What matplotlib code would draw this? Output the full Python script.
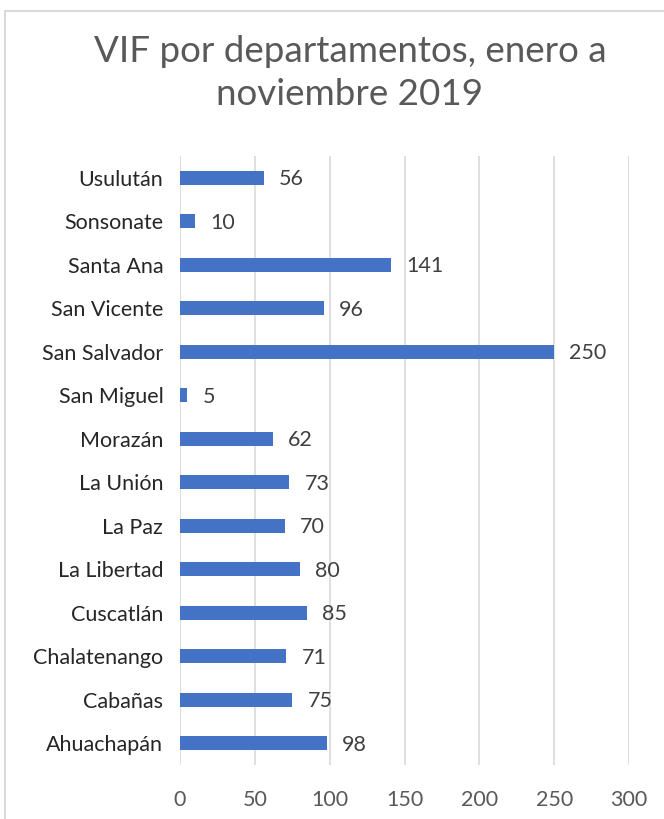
import matplotlib
matplotlib.use("Agg")
import matplotlib.pyplot as plt
from matplotlib.patches import Rectangle

categories = ["Usulután", "Sonsonate", "Santa Ana", "San Vicente", "San Salvador",
              "San Miguel", "Morazán", "La Unión", "La Paz", "La Libertad",
              "Cuscatlán", "Chalatenango", "Cabañas", "Ahuachapán"]
values = [56, 10, 141, 96, 250, 5, 62, 73, 70, 80, 85, 71, 75, 98]
xticks = [0, 50, 100, 150, 200, 250, 300]
title = "VIF por departamentos, enero a\nnoviembre 2019"

plt.rcParams['font.family'] = ['Lato', 'DejaVu Sans']

W, H = 664, 819
fig = plt.figure(figsize=(W/100, H/100), dpi=100)
fig.patch.set_facecolor("white")

# outer border (right/bottom extend beyond the image)
fig.patches.append(Rectangle((5/W, -0.05), 1.2, 1 - 11/H + 0.05, transform=fig.transFigure,
                             fill=False, edgecolor="#D9D9D9", linewidth=1.5))

ax = fig.add_axes([180/W, 1 - 765/H, (629-180)/W, (765-156)/H])
n = len(categories)
ypos = list(range(n))
ax.barh(ypos, values, height=0.33, color="#4472C4", zorder=3)
ax.set_ylim(n - 0.5, -0.5)
ax.set_xlim(0, 300)
ax.set_xticks(xticks)
ax.set_xticklabels([str(t) for t in xticks], fontsize=15.5, color="#595959")
ax.set_yticks(ypos)
ax.set_yticklabels(categories, fontsize=15.5, color="#262626")
ax.tick_params(axis="both", length=0)
ax.tick_params(axis="x", pad=18)
ax.tick_params(axis="y", pad=12)
ax.grid(axis="x", color="#D9D9D9", linewidth=1.2, zorder=0)
for s in ax.spines.values():
    s.set_visible(False)
for y, v in zip(ypos, values):
    ax.annotate(str(v), (v, y), xytext=(11, -1), textcoords="offset points",
                va="center", ha="left", fontsize=15.5, color="#404040")

fig.text(350/W, 1 - 73/H, title, ha="center", va="center", fontsize=26.5,
         color="#595959", linespacing=1.4)

fig.savefig("out.png", dpi=100)
